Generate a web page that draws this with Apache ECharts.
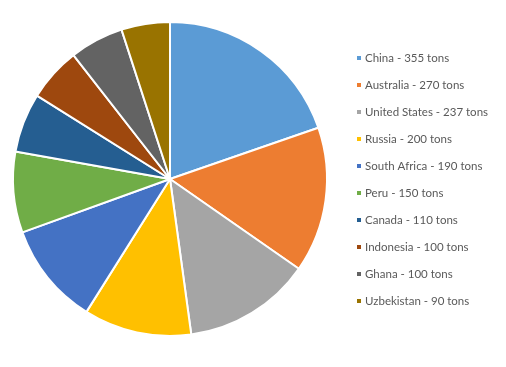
<!DOCTYPE html>
<html>
<head>
<meta charset="utf-8">
<script src="https://cdn.jsdelivr.net/npm/echarts@6/dist/echarts.min.js"></script>
<style>html,body{margin:0;padding:0;background:#fff}#c{width:506px;height:367px}</style>
</head>
<body>
<div id="c"></div>
<script>
const countries = ["China","Australia","United States","Russia","South Africa","Peru","Canada","Indonesia","Ghana","Uzbekistan"];
const tons = [355,270,237,200,190,150,110,100,100,90];
const colors = ["#5B9BD5","#ED7D31","#A5A5A5","#FFC000","#4472C4","#70AD47","#255E91","#9E480E","#636363","#997300"];

const chart = echarts.init(document.getElementById('c'), null, {renderer:'canvas'});
chart.setOption({
  animation: false,
  color: colors,
  legend: {
    orient: 'vertical',
    left: 350,
    top: 46,
    itemWidth: 6,
    itemHeight: 6,
    itemGap: 13,
    icon: 'rect',
    textStyle: {fontFamily: 'Lato', fontSize: 11.5, color: '#595959', lineHeight: 14, padding: [0,0,0,-2]},
    formatter: function(name){
      const i = countries.indexOf(name);
      return name + ' - ' + tons[i] + ' tons';
    }
  },
  series: [{
    type: 'pie',
    center: [170, 179],
    radius: [0, 157],
    startAngle: 90,
    clockwise: true,
    label: {show: false},
    labelLine: {show: false},
    emphasis: {disabled: true},
    itemStyle: {borderColor: '#fff', borderWidth: 2},
    data: countries.map((c,i)=>({name:c, value:tons[i]}))
  }]
});
</script>
</body>
</html>
